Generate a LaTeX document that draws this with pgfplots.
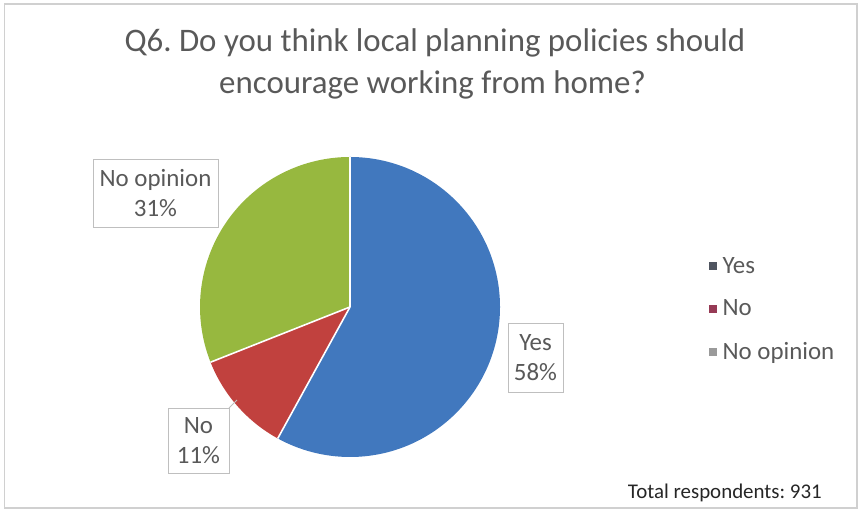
\documentclass[border=0pt]{standalone}
\usepackage{pgfplots}
\usepackage{pgfplotstable}
\pgfplotsset{compat=1.18}
\usepackage{fontspec}
\setmainfont{Carlito}
\frenchspacing

\definecolor{cyes}{HTML}{4178BE}
\definecolor{cno}{HTML}{C1413E}
\definecolor{cnoop}{HTML}{97B83F}
\definecolor{txt}{HTML}{595959}
\definecolor{boxc}{HTML}{BFBFBF}
\definecolor{frame}{HTML}{D0D0D0}
\definecolor{lyes}{HTML}{4F5560}
\definecolor{lno}{HTML}{963A55}
\definecolor{lnoop}{HTML}{9A9A9A}

\pgfplotstableread{
label share
Yes 58
No 11
NoOpinion 31
}\piedata

\begin{document}
\begin{tikzpicture}[x=1bp,y=1bp]
\useasboundingbox (0,0) rectangle (864,513);
\draw[frame, line width=1.2bp] (4.5,5) rectangle (857,509);

\pgfplotstablegetelem{0}{share}\of\piedata \pgfmathsetmacro\va{\pgfplotsretval}
\pgfplotstablegetelem{1}{share}\of\piedata \pgfmathsetmacro\vb{\pgfplotsretval}
\pgfplotstablegetelem{2}{share}\of\piedata \pgfmathsetmacro\vc{\pgfplotsretval}
\pgfmathsetmacro\aA{90}
\pgfmathsetmacro\aB{\aA-3.6*\va}
\pgfmathsetmacro\aC{\aB-3.6*\vb}
\pgfmathsetmacro\aD{\aC-3.6*\vc}

\begin{axis}[
  at={(350bp,206bp)}, anchor=origin,
  x=150bp, y=150bp,
  xmin=-1, xmax=1, ymin=-1, ymax=1,
  hide axis, clip=false,
  legend style={draw=none, fill=none, at={(axis cs:2.393,0.345)}, anchor=north west,
    font=\fontsize{25}{25}\selectfont, text=txt, row sep=21bp, column sep=4bp, inner sep=0pt,
    nodes={inner sep=2bp}},
  legend cell align=left,
  legend image code/.code={\fill[#1] (0bp,-3.5bp) rectangle (7bp,3.5bp);},
]
\fill[cyes] (axis cs:0,0) -- ({cos(\aA)},{sin(\aA)}) arc[start angle=\aA, end angle=\aB, radius=150bp] -- cycle;
\fill[cno] (axis cs:0,0) -- ({cos(\aB)},{sin(\aB)}) arc[start angle=\aB, end angle=\aC, radius=150bp] -- cycle;
\fill[cnoop] (axis cs:0,0) -- ({cos(\aC)},{sin(\aC)}) arc[start angle=\aC, end angle=\aD, radius=150bp] -- cycle;
\draw[white, line width=1.6bp] (axis cs:0,0) -- ({cos(\aA)},{sin(\aA)});
\draw[white, line width=1.6bp] (axis cs:0,0) -- ({cos(\aB)},{sin(\aB)});
\draw[white, line width=1.6bp] (axis cs:0,0) -- ({cos(\aC)},{sin(\aC)});
\addlegendimage{lyes}
\addlegendentry{Yes}
\addlegendimage{lno}
\addlegendentry{No}
\addlegendimage{lnoop}
\addlegendentry{No opinion}
\end{axis}

% title
\node[anchor=base, text=txt, font=\fontsize{33}{40}\selectfont, inner sep=0] at (435,461) {Q6. Do you think local planning policies should};
\node[anchor=base, text=txt, font=\fontsize{33}{40}\selectfont, inner sep=0] at (432.5,419) {encourage working from home?};

% data labels
\tikzset{dlab/.style={draw=boxc, line width=0.9bp, fill=white, align=center, text=txt,
  font=\fontsize{25}{30}\selectfont, inner sep=0pt}}
\node[dlab, minimum width=125bp, minimum height=68bp] at (155.5,320) {No opinion\\31\%};
\node[dlab, minimum width=55bp, minimum height=69bp] at (535.5,155.5) {Yes\\58\%};
\node[dlab, minimum width=61bp, minimum height=65bp] at (198.5,72.5) {No\\11\%};
\draw[boxc, line width=0.9bp] (229,105) -- (237,113);

% footnote
\node[anchor=east, font=\fontsize{21}{25}\selectfont, text=black!85, inner sep=0] at (822,20) {Total respondents: 931};
\end{tikzpicture}
\end{document}
